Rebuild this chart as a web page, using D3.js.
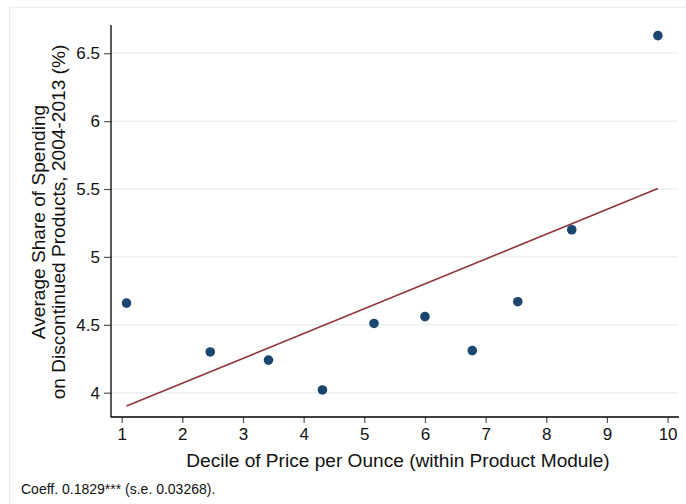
<!DOCTYPE html>
<html>
<head>
<meta charset="utf-8">
<script src="https://cdn.jsdelivr.net/npm/d3@7"></script>
<style>
  html, body { margin: 0; padding: 0; background: #fff; }
  svg { display: block; font-family: "Liberation Sans", Arial, sans-serif; }
</style>
</head>
<body>
<svg id="chart" width="686" height="504"></svg>
<script>
// Binned scatter: decile of price per ounce vs. share of spending on discontinued products
const deciles = [1.08, 2.46, 3.42, 4.31, 5.16, 6.00, 6.78, 7.53, 8.42, 9.84];
const shares  = [4.66, 4.30, 4.24, 4.02, 4.51, 4.56, 4.31, 4.67, 5.20, 6.63];
const slope = 0.1829;
const xTicks = [1, 2, 3, 4, 5, 6, 7, 8, 9, 10];
const yTicks = [4, 4.5, 5, 5.5, 6, 6.5];
const yTickLabels = ["4", "4.5", "5", "5.5", "6", "6.5"];
const xTitle = "Decile of Price per Ounce (within Product Module)";
const yTitle = ["Average Share of Spending", "on Discontinued Products, 2004-2013 (%)"];
const note = "Coeff. 0.1829*** (s.e. 0.03268).";

const svg = d3.select("#chart");
const plot = { left: 111, right: 679, top: 25, bottom: 417 };

const x = d3.scaleLinear().domain([0.824, 10.188]).range([plot.left, plot.right]);
const y = d3.scaleLinear().domain([3.821, 6.708]).range([plot.bottom, plot.top]);

// outer graph region border
svg.append("rect")
  .attr("x", 9.5).attr("y", 7.5).attr("width", 700).attr("height", 520)
  .attr("fill", "none").attr("stroke", "#e9eeee").attr("stroke-width", 1.2);

// horizontal gridlines
svg.append("g").selectAll("line").data(yTicks).join("line")
  .attr("x1", plot.left).attr("x2", plot.right - 1)
  .attr("y1", d => y(d)).attr("y2", d => y(d))
  .attr("stroke", "#eaf1f3").attr("stroke-width", 1.5);

// y axis
const yAxis = svg.append("g")
  .attr("transform", `translate(${plot.left},0)`)
  .call(d3.axisLeft(y).tickValues(yTicks).tickFormat((d, i) => yTickLabels[i])
    .tickSize(7).tickPadding(4).tickSizeOuter(0));
yAxis.select(".domain").remove();
yAxis.selectAll(".tick line").attr("stroke", "#555").attr("stroke-width", 1.2);
yAxis.selectAll(".tick text").attr("font-size", 17).attr("fill", "#111")
  .attr("font-family", "Liberation Sans, Arial, sans-serif");

// x axis
const xAxis = svg.append("g")
  .attr("transform", `translate(0,${plot.bottom})`)
  .call(d3.axisBottom(x).tickValues(xTicks).tickFormat(d3.format("d"))
    .tickSize(6).tickPadding(5).tickSizeOuter(0));
xAxis.select(".domain").remove();
xAxis.selectAll(".tick line").attr("stroke", "#555").attr("stroke-width", 1.2);
xAxis.selectAll(".tick text").attr("font-size", 17).attr("fill", "#111")
  .attr("font-family", "Liberation Sans, Arial, sans-serif");

// axis lines
svg.append("line")
  .attr("x1", plot.left).attr("x2", plot.left)
  .attr("y1", plot.top).attr("y2", plot.bottom + 0.6)
  .attr("stroke", "#000").attr("stroke-width", 1.3);
svg.append("line")
  .attr("x1", plot.left).attr("x2", plot.right)
  .attr("y1", plot.bottom).attr("y2", plot.bottom)
  .attr("stroke", "#000").attr("stroke-width", 1.3);

// fitted line: fixed slope through the means of the points
const mx = d3.mean(deciles), my = d3.mean(shares);
const intercept = my - slope * mx;
const xs = d3.extent(deciles);
svg.append("path")
  .datum(xs.map(v => [v, intercept + slope * v]))
  .attr("d", d3.line().x(d => x(d[0])).y(d => y(d[1])))
  .attr("fill", "none").attr("stroke", "#90353b").attr("stroke-width", 1.6);

// points
svg.append("g").selectAll("circle").data(deciles.map((d, i) => [d, shares[i]])).join("circle")
  .attr("cx", d => x(d[0])).attr("cy", d => y(d[1])).attr("r", 4.8)
  .attr("fill", "#1a476f");

// titles
svg.append("text")
  .attr("x", 398).attr("y", 467)
  .attr("text-anchor", "middle").attr("font-size", 19.1).attr("fill", "#111")
  .text(xTitle);

const yt = svg.append("text")
  .attr("transform", "translate(45,222) rotate(-90)")
  .attr("text-anchor", "middle").attr("font-size", 19.1).attr("fill", "#111");
yt.append("tspan").attr("x", 0).attr("y", 0).text(yTitle[0]);
yt.append("tspan").attr("x", 0).attr("y", 19.5).text(yTitle[1]);

// note
svg.append("text")
  .attr("x", 21).attr("y", 494)
  .attr("font-size", 14).attr("fill", "#111")
  .text(note);
</script>
</body>
</html>
